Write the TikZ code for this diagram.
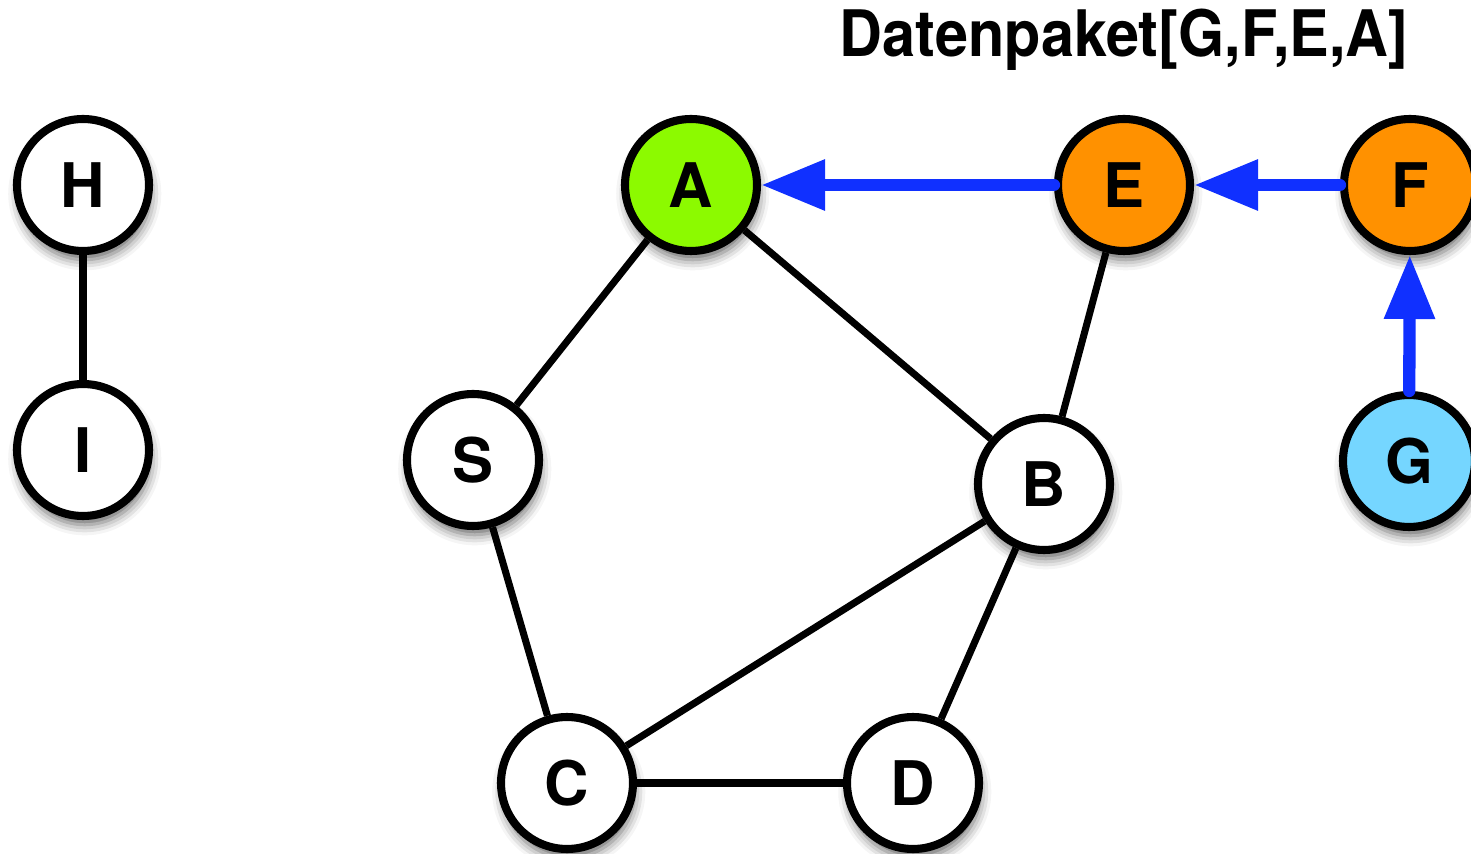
\documentclass[tikz,border=0pt]{standalone}
\usepackage{fontspec}
\setmainfont{TeX Gyre Heros}
\usetikzlibrary{arrows.meta,shadows.blur}
\definecolor{nodegreen}{RGB}{140,250,0}
\definecolor{nodeorange}{RGB}{255,145,0}
\definecolor{nodecyan}{RGB}{117,214,255}
\definecolor{hopblue}{RGB}{16,48,255}
\begin{document}
\begin{tikzpicture}[x=0.02cm, y=0.02cm] % routing of the data packet
            \tikzstyle{every node}+=[inner sep=0pt]
            \tikzstyle{vertex}=[circle, draw=black, fill=white, line width=4.6pt, minimum size=2.64cm,
                font=\fontsize{35}{40}\selectfont\bfseries,
                blur shadow={shadow xshift=1pt, shadow yshift=-5pt, shadow blur radius=6pt, shadow opacity=60}]
            \tikzstyle{link}=[black, line width=4pt]
            \tikzstyle{hop}=[hopblue, line width=7pt, line cap=round, -{Triangle[length=1.28cm,width=0.96cm]}]
            \useasboundingbox (0,0) rectangle (1471,-854);
            \node at (1124,-57) [anchor=base, font=\addfontfeature{FakeStretch=0.926}\fontsize{36.5}{40}\selectfont\bfseries] (title) {Datenpaket[G,F,E,A]};
            \node [vertex] (H) at (83,-185) {H};
            \node [vertex] (I) at (83,-450) {I};
            \node [vertex, fill=nodegreen] (A) at (691,-185) {A};
            \node [vertex, fill=nodeorange] (E) at (1124,-185) {E};
            \node [vertex, fill=nodeorange] (F) at (1410,-185) {F};
            \node [vertex] (S) at (473,-460) {S};
            \node [vertex] (B) at (1044,-484) {B};
            \node [vertex, fill=nodecyan] (G) at (1409,-461) {G};
            \node [vertex] (C) at (567,-783) {C};
            \node [vertex] (D) at (913,-783) {D};
            \draw [link] (H) -- (I);
            \draw [link] (A) -- (S);
            \draw [link] (A) -- (B);
            \draw [link] (E) -- (B);
            \draw [link] (S) -- (C);
            \draw [link] (B) -- (C);
            \draw [link] (B) -- (D);
            \draw [link] (C) -- (D);
            \draw [hop] (E) -- (A);
            \draw [hop] (F) -- (E);
            \draw [hop] (G) -- (F);
\end{tikzpicture}
\end{document}
